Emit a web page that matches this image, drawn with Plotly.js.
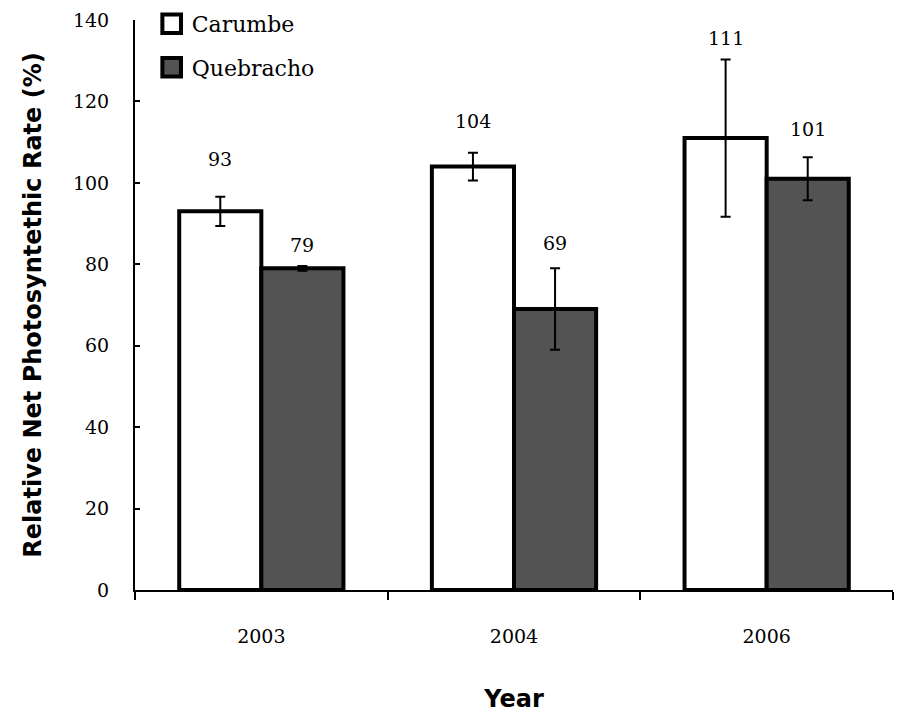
<!DOCTYPE html>
<html>
<head>
<meta charset="utf-8">
<script src="https://cdn.plot.ly/plotly-3.0.1.min.js"></script>
<style>
  html, body { margin: 0; padding: 0; background: #fff; }
  #chart { width: 900px; height: 714px; }
</style>
</head>
<body>
<div id="chart"></div>
<script>
// Years sampled
const years = ['2003', '2004', '2006'];

// Relative net photosynthetic rate (%) per site
const carumbe = [93, 104, 111];
const carumbeErr = [3.6, 3.4, 19.3];
const quebracho = [79, 69, 101];
const quebrachoErr = [0.6, 10, 5.3];

const yTicks = [0, 20, 40, 60, 80, 100, 120, 140];

// ---- styling ----
const serif = 'DejaVu Serif, Liberation Serif, serif';
const sansBold = 'DejaVu Sans, Liberation Sans, sans-serif';
const BARGAP = 0.35;
// label distance (px) above the top of each error bar: Carumbe/Quebracho per year
const labelLift = [[38, 21], [32, 25], [21, 28]];

const errStyle = { type: 'data', visible: true, color: '#000', thickness: 2, width: 5 };

const traces = [
  {
    type: 'bar', name: 'Carumbe', x: years, y: carumbe,
    marker: { color: '#ffffff', line: { color: '#000', width: 4 } },
    error_y: Object.assign({ array: carumbeErr }, errStyle),
    legendgroup: 'c', hoverinfo: 'x+y'
  },
  {
    type: 'bar', name: 'Quebracho', x: years, y: quebracho,
    marker: { color: '#535353', line: { color: '#000', width: 4 } },
    error_y: Object.assign({ array: quebrachoErr }, errStyle),
    legendgroup: 'q', hoverinfo: 'x+y'
  }
];

// value labels above each bar's error bar
const half = (1 - BARGAP) / 4; // center offset of each bar within its group
const annotations = [];
years.forEach((yr, i) => {
  [[carumbe, carumbeErr, -half, 0], [quebracho, quebrachoErr, half, 1]].forEach(([vals, errs, dx, k]) => {
    annotations.push({
      x: i + dx, y: vals[i] + errs[i], xref: 'x', yref: 'y',
      text: String(vals[i]), showarrow: false,
      yanchor: 'middle', yshift: labelLift[i][k],
      font: { family: serif, size: 19, color: '#000' }
    });
  });
});

const layout = {
  width: 900, height: 714,
  margin: { l: 135, r: 7, t: 20, b: 124, autoexpand: false },
  paper_bgcolor: '#fff', plot_bgcolor: '#fff',
  barmode: 'group', bargap: BARGAP, bargroupgap: 0,
  showlegend: true,
  legend: {
    x: 0.022, y: 1.03, xanchor: 'left', yanchor: 'top',
    bgcolor: 'rgba(0,0,0,0)', traceorder: 'grouped', tracegroupgap: 12,
    font: { family: serif, size: 22, color: '#000' }
  },
  xaxis: {
    type: 'category', range: [-0.5, 2.5],
    showline: true, linecolor: '#000', linewidth: 2,
    ticks: 'outside', tickson: 'boundaries', ticklen: 8, tickwidth: 2, tickcolor: '#000',
    ticklabelstandoff: 28,
    tickfont: { family: serif, size: 19, color: '#000' },
    showgrid: false, zeroline: false,
    title: { text: 'Year', standoff: 44, font: { family: sansBold, size: 24, color: '#000', weight: 'bold' } }
  },
  yaxis: {
    range: [0, 140], tickvals: yTicks,
    showline: true, linecolor: '#000', linewidth: 2,
    ticks: 'inside', ticklen: 5, tickwidth: 2, tickcolor: '#000',
    ticklabelstandoff: 20,
    tickfont: { family: serif, size: 19, color: '#000' },
    showgrid: false, zeroline: false,
    title: { text: 'Relative Net Photosyntethic Rate (%)', standoff: 25, font: { family: sansBold, size: 24, color: '#000', weight: 'bold' } }
  },
  annotations: annotations
};

Plotly.newPlot('chart', traces, layout, { displayModeBar: false, staticPlot: true }).then(gd => {
  // enlarge the legend swatches to the chart's boxed-key look
  gd.querySelectorAll('.legend .legendpoints path').forEach(p => {
    const t = p.getAttribute('transform') || '';
    p.style.strokeWidth = '2.6px';
    p.setAttribute('transform', (t + ' scale(1.55)').trim());
  });
});
</script>
</body>
</html>
